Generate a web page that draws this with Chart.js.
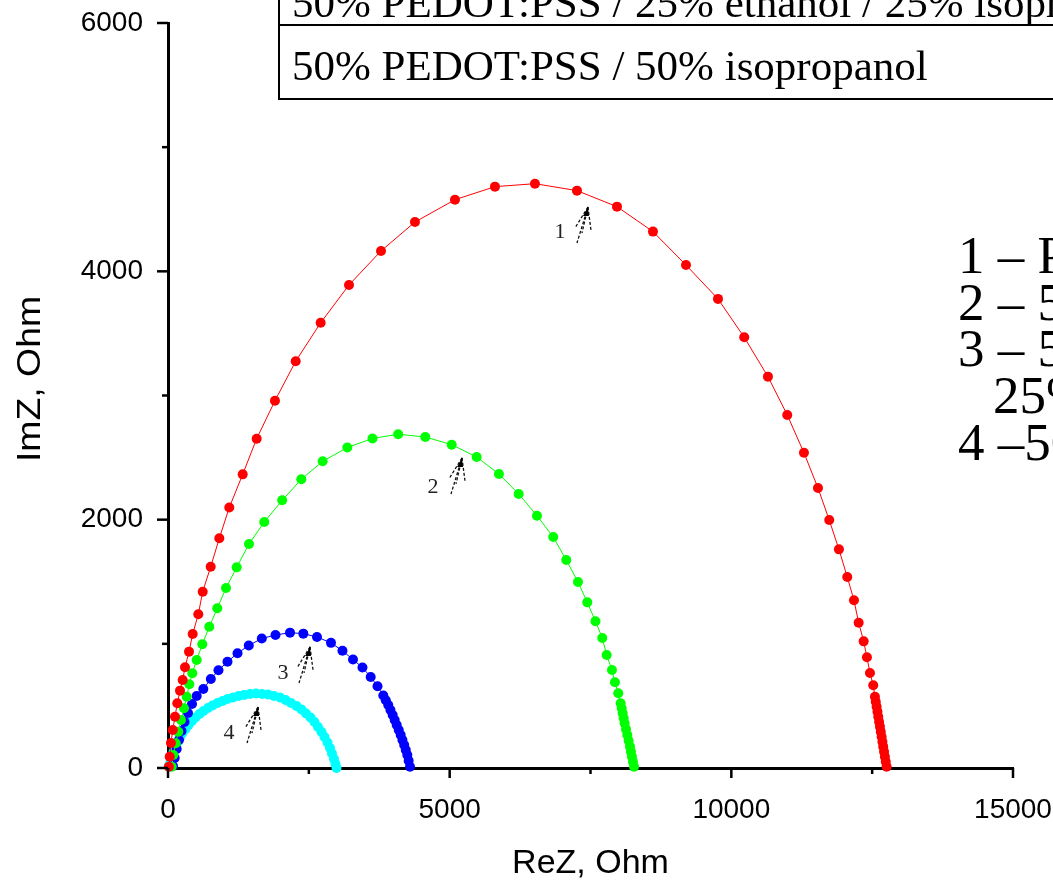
<!DOCTYPE html>
<html>
<head>
<meta charset="utf-8">
<script src="https://cdn.jsdelivr.net/npm/chart.js@4.4.1/dist/chart.umd.min.js"></script>
<style>
html, body { margin: 0; padding: 0; background: #fff; }
</style>
</head>
<body>
<canvas id="chart-nyquist" width="1053" height="884"></canvas>
<script>
// 1 - red curve
const reZ1 = [15, 30, 52, 85, 124, 165, 213, 261, 302, 373, 438, 538, 616, 758, 911, 1088, 1326, 1574, 1899, 2267,
    2710, 3213, 3781, 4384, 5094, 5804, 6514, 7260, 7970, 8609, 9195, 9763, 10229, 10650, 10993, 11289, 11538,
    11738, 11910, 12058, 12177, 12260, 12349, 12407, 12461, 12519, 12549, 12564, 12579, 12594, 12608, 12623,
    12638, 12653, 12668, 12682, 12696, 12711, 12726, 12741, 12757];
const imZ1 = [10, 91, 201, 306, 413, 521, 623, 709, 811, 937, 1079, 1238, 1420, 1621, 1850, 2098, 2365, 2652, 2958, 3276,
    3586, 3890, 4164, 4397, 4577, 4682, 4706, 4650, 4521, 4320, 4051, 3778, 3469, 3152, 2843, 2539, 2255,
    1997, 1761, 1538, 1351, 1170, 1020, 892, 765, 666, 574, 534, 494, 453, 413, 373,
    333, 292, 252, 212, 172, 131, 91, 51, 10];

// 2 - green curve
const reZ2 = [66, 94, 137, 183, 231, 284, 332, 378, 431, 509, 609, 733, 875, 1030, 1219, 1438, 1709, 2027, 2366, 2746,
    3183, 3630, 4086, 4567, 5036, 5479, 5875, 6225, 6550, 6839, 7070, 7278, 7443, 7588, 7709, 7787, 7881, 7934,
    7993, 8035, 8053, 8071, 8089, 8106, 8130, 8153, 8177, 8201, 8218, 8236, 8254, 8272];
const imZ2 = [10, 105, 199, 292, 387, 481, 574, 674, 763, 870, 996, 1138, 1286, 1450, 1616, 1804, 1981, 2156, 2325, 2470,
    2581, 2654, 2688, 2666, 2604, 2505, 2368, 2207, 2032, 1860, 1675, 1498, 1334, 1182, 1047, 910, 789, 690,
    602, 521, 481, 441, 400, 360, 313, 266, 219, 172, 131, 91, 50, 10];

// 3 - blue curve
const reZ3 = [89, 119, 154, 195, 240, 293, 355, 426, 509, 627, 760, 896, 1056, 1234, 1434, 1665, 1908, 2166, 2402, 2645,
    2893, 3097, 3284, 3452, 3598, 3719, 3822, 3866, 3910, 3949, 3988, 4024, 4060, 4096, 4131, 4162, 4193, 4221,
    4248, 4272, 4296];
const imZ3 = [16, 81, 153, 226, 298, 370, 443, 515, 580, 636, 717, 787, 856, 924, 987, 1043, 1071, 1090, 1082, 1055,
    1008, 944, 874, 809, 733, 658, 584, 546, 507, 467, 427, 387, 346, 306, 266, 226, 185, 145,
    105, 58, 10];

// 4 - cyan curve
const reZ4 = [18, 44, 71, 98, 133, 169, 213, 257, 311, 364, 426, 488, 559, 630, 710, 790, 879, 967, 1056, 1154,
    1251, 1349, 1456, 1562, 1669, 1775, 1882, 1988, 2086, 2183, 2281, 2370, 2450, 2529, 2600, 2663, 2725, 2778,
    2831, 2876, 2911, 2947, 2973, 2991];
const imZ4 = [16, 48, 89, 129, 169, 209, 246, 282, 314, 346, 379, 407, 435, 459, 483, 503, 524, 540, 556, 568,
    580, 588, 596, 600, 596, 592, 580, 568, 548, 524, 499, 471, 439, 407, 370, 330, 290, 250,
    205, 161, 117, 72, 32, 0];

const xLabelTicks = [0, 5000, 10000, 15000];
const yLabelTicks = [0, 2000, 4000, 6000];
const yTitle = 'ImZ, Ohm';
const curveNames = ['1', '2', '3', '4'];
const tableRows = ['50% PEDOT:PSS / 25% ethanol / 25% isopropanol', '50% PEDOT:PSS / 50% isopropanol'];
const legendLines = ['1 – PEDOT:PSS', '2 – 50% PEDOT:PSS / 50% ethanol', '3 – 50% PEDOT:PSS / 25% ethanol /',
    '25% isopropanol', '4 –50% PEDOT:PSS / 50% isopropanol'];

function toPoints(re, im) {
    return re.map((v, i) => ({ x: v, y: im[i] }));
}

// where the little "1".."4" tags and their arrows sit (in data units)
const tagAnchors = [
    { tx: 6958, ty: 4317, ax: 7455, ay: 4518 },
    { tx: 4704, ty: 2263, ax: 5219, ay: 2497 },
    { tx: 2041, ty: 765, ax: 2521, ay: 975 },
    { tx: 1083, ty: 282, ax: 1598, ay: 491 }
];

const sans = '"Liberation Sans", Arial, sans-serif';
const serif = '"Liberation Serif", "Times New Roman", serif';

const overlay = {
    id: 'overlay',
    afterDraw(chart) {
        const ctx = chart.ctx;
        const xs = chart.scales.x;
        const ys = chart.scales.y;
        const area = chart.chartArea;
        ctx.save();

        // ticks, long for labelled, short for the others
        ctx.strokeStyle = '#000';
        ctx.lineWidth = 2.5;
        xs.ticks.forEach(t => {
            const px = xs.getPixelForValue(t.value);
            const len = xLabelTicks.includes(t.value) ? 10 : 6;
            ctx.beginPath();
            ctx.moveTo(px, area.bottom);
            ctx.lineTo(px, area.bottom + len);
            ctx.stroke();
        });
        ys.ticks.forEach(t => {
            const py = ys.getPixelForValue(t.value);
            const len = yLabelTicks.includes(t.value) ? 11 : 6;
            ctx.beginPath();
            ctx.moveTo(area.left, py);
            ctx.lineTo(area.left - len, py);
            ctx.stroke();
        });

        // y axis title, a bit stretched like the original figure
        ctx.save();
        ctx.translate(31, 379);
        ctx.rotate(-Math.PI / 2);
        ctx.scale(1.1, 1);
        ctx.fillStyle = '#000';
        ctx.font = '34px ' + sans;
        ctx.textAlign = 'center';
        ctx.textBaseline = 'middle';
        ctx.fillText(yTitle, 0, 0);
        ctx.restore();

        // curve tags with sketch arrows
        tagAnchors.forEach((a, i) => {
            const tx = xs.getPixelForValue(a.tx);
            const ty = ys.getPixelForValue(a.ty);
            const ax = xs.getPixelForValue(a.ax);
            const ay = ys.getPixelForValue(a.ay);
            ctx.fillStyle = '#222';
            ctx.font = '22px ' + serif;
            ctx.textAlign = 'center';
            ctx.textBaseline = 'middle';
            ctx.fillText(curveNames[i], tx, ty);
            ctx.strokeStyle = '#111';
            ctx.lineWidth = 1.3;
            ctx.setLineDash([3, 2]);
            [[-11, 36], [-13, 21], [3, 23], [-6, 26]].forEach(d => {
                ctx.beginPath();
                ctx.moveTo(ax, ay);
                ctx.lineTo(ax + d[0], ay + d[1]);
                ctx.stroke();
            });
            ctx.setLineDash([]);
            ctx.fillStyle = '#000';
            ctx.beginPath();
            ctx.moveTo(ax, ay);
            ctx.lineTo(ax - 5, ay + 9);
            ctx.lineTo(ax + 1, ay + 9);
            ctx.closePath();
            ctx.fill();
        });

        // table box at the top
        ctx.fillStyle = '#fff';
        ctx.fillRect(279, -5, 800, 104);
        ctx.strokeStyle = '#000';
        ctx.lineWidth = 2;
        ctx.strokeRect(279, -5, 800, 104);
        ctx.beginPath();
        ctx.moveTo(279, 25);
        ctx.lineTo(1060, 25);
        ctx.stroke();
        ctx.fillStyle = '#000';
        ctx.font = '43px ' + serif;
        ctx.textAlign = 'left';
        ctx.textBaseline = 'alphabetic';
        ctx.fillText(tableRows[0], 292, 17);
        ctx.fillText(tableRows[1], 292, 80);

        // numbered list on the right
        ctx.font = '53px ' + serif;
        const lx = [958, 958, 958, 993, 958];
        const ly = [273, 320, 366, 413, 460];
        legendLines.forEach((s, i) => ctx.fillText(s, lx[i], ly[i]));

        ctx.restore();
    }
};

const ctx = document.getElementById('chart-nyquist').getContext('2d');
const myChart = new Chart(ctx, {
    type: 'scatter',
    data: {
        datasets: [
            { label: '1', data: toPoints(reZ1, imZ1), borderColor: '#ff0000', backgroundColor: '#ff0000' },
            { label: '2', data: toPoints(reZ2, imZ2), borderColor: '#00ff00', backgroundColor: '#00ff00' },
            { label: '3', data: toPoints(reZ3, imZ3), borderColor: '#0000ff', backgroundColor: '#0000ff' },
            { label: '4', data: toPoints(reZ4, imZ4), borderColor: '#00ffff', backgroundColor: '#00ffff' }
        ].map(d => Object.assign(d, {
            showLine: true,
            borderWidth: 1,
            pointRadius: 5,
            pointBorderWidth: 0,
            clip: false
        }))
    },
    plugins: [overlay],
    options: {
        responsive: false,
        animation: false,
        layout: { padding: { top: 23, right: 40, left: 0, bottom: 0 } },
        plugins: {
            legend: { display: false },
            tooltip: { enabled: false }
        },
        scales: {
            x: {
                type: 'linear',
                min: 0,
                max: 15000,
                afterFit: s => { s.height = 116; s.paddingLeft = 0; s.paddingRight = 0; },
                ticks: {
                    stepSize: 2500,
                    autoSkip: false,
                    maxRotation: 0,
                    padding: 17,
                    color: '#000',
                    font: { family: sans, size: 28 },
                    callback: v => xLabelTicks.includes(v) ? String(v) : ''
                },
                grid: { display: false },
                border: { display: true, color: '#000', width: 3 },
                title: {
                    display: true,
                    text: 'ReZ, Ohm',
                    color: '#000',
                    font: { family: sans, size: 34 },
                    padding: { top: 0, bottom: 0 }
                }
            },
            y: {
                type: 'linear',
                min: 0,
                max: 6000,
                afterFit: s => { s.width = 168; s.paddingTop = 0; s.paddingBottom = 0; },
                ticks: {
                    stepSize: 1000,
                    autoSkip: false,
                    padding: 17,
                    color: '#000',
                    font: { family: sans, size: 28 },
                    callback: v => yLabelTicks.includes(v) ? String(v) : ''
                },
                grid: { display: false },
                border: { display: true, color: '#000', width: 3 }
            }
        }
    }
});
</script>
</body>
</html>
